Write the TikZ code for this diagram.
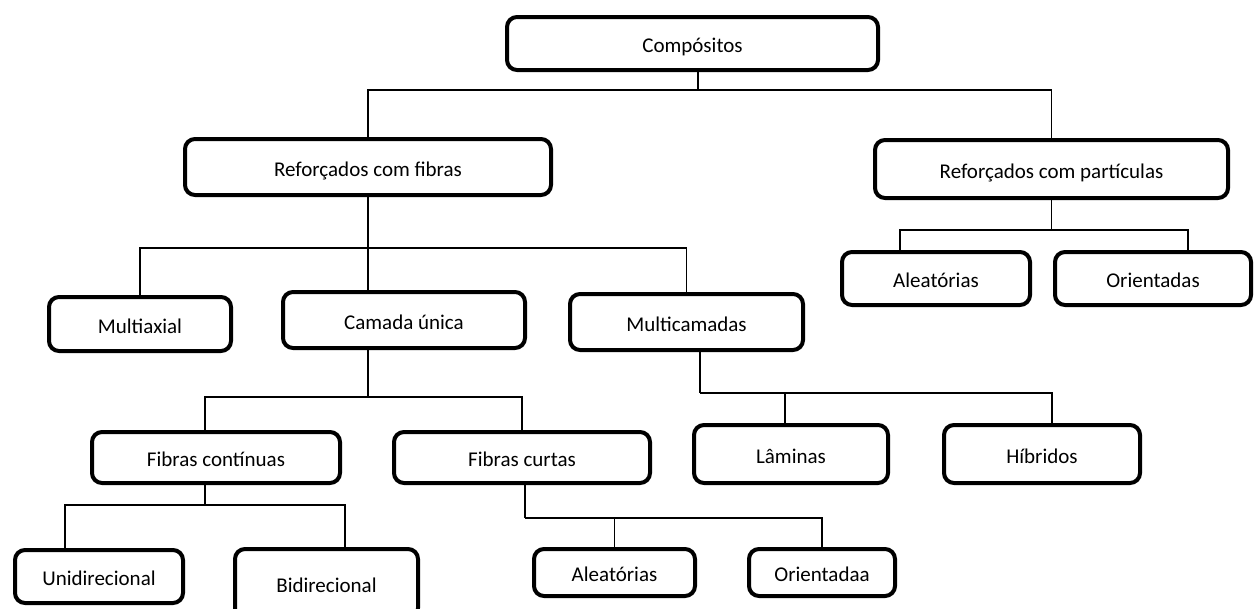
\documentclass[tikz,border=0pt]{standalone}
\usepackage{fontspec}
\setmainfont{Carlito}
\usetikzlibrary{positioning,calc}

\begin{document}
\begin{tikzpicture}[
  x=1pt, y=-1pt,
  caixa/.style={draw=black, line width=4pt, rounded corners=10pt, fill=white, align=center, inner sep=0pt,
    text height=19pt, text depth=1pt, font=\fontsize{21}{25}\selectfont},
  ramo/.style={draw=black, line width=1.8pt}
]
\useasboundingbox (0,0) rectangle (1260,608);
\clip (0,0) rectangle (1260,608);

% niveis dos barramentos
\coordinate (b1) at (0,90);
\coordinate (b2) at (0,248);
\coordinate (b3) at (0,230);
\coordinate (b4) at (0,397);
\coordinate (b5) at (0,393);
\coordinate (b6) at (0,505);
\coordinate (b7) at (0,518);

\node[caixa, minimum width=371pt, minimum height=53pt] (comp) at (692.5,43.5) {Compósitos};
\node[caixa, minimum width=366pt, minimum height=56pt] (reffib) at (368,167) {Reforçados com fibras};
\node[caixa, minimum width=353pt, minimum height=58pt] (refpart) at (1051.5,169) {Reforçados com partículas};
\node[caixa, minimum width=188pt, minimum height=53pt] (aleatA) at (936,278.5) {Aleatórias};
\node[caixa, minimum width=196pt, minimum height=53pt] (orientA) at (1153,278.5) {Orientadas};
\node[caixa, minimum width=182pt, minimum height=54pt] (multiax) at (140,324) {Multiaxial};
\node[caixa, minimum width=242pt, minimum height=56pt] (camada) at (404,320) {Camada única};
\node[caixa, minimum width=233pt, minimum height=56pt] (multicam) at (686.5,322) {Multicamadas};
\node[caixa, minimum width=248pt, minimum height=51pt] (fibcont) at (216,457.5) {Fibras contínuas};
\node[caixa, minimum width=256pt, minimum height=51pt] (fibcurt) at (522,457.5) {Fibras curtas};
\node[caixa, minimum width=194pt, minimum height=58pt] (laminas) at (791,454) {Lâminas};
\node[caixa, minimum width=196pt, minimum height=58pt] (hibridos) at (1042,454) {Híbridos};
\node[caixa, minimum width=168pt, minimum height=53pt] (unidir) at (99,576.5) {Unidirecional};
\node[caixa, minimum width=183pt, minimum height=69pt] (bidir) at (326.5,583.5) {Bidirecional};
\node[caixa, minimum width=161pt, minimum height=47pt] (aleatB) at (614.5,572.5) {Aleatórias};
\node[caixa, minimum width=146pt, minimum height=47pt] (orientB) at (822,572.5) {Orientadaa};

% pontos de ligacao fora do centro
\coordinate (compbase) at ([xshift=5.5pt]comp.south);
\coordinate (aleatAtop) at ([xshift=-36pt]aleatA.north);
\coordinate (orientAtop) at ([xshift=35pt]orientA.north);
\coordinate (multicambase) at ([xshift=13.5pt]multicam.south);
\coordinate (laminastop) at ([xshift=-6pt]laminas.north);
\coordinate (hibridostop) at ([xshift=10pt]hibridos.north);
\coordinate (fibconttop) at ([xshift=-11pt]fibcont.north);
\coordinate (fibcontbase) at ([xshift=-11pt]fibcont.south);
\coordinate (unidirtop) at ([xshift=-34pt]unidir.north);
\coordinate (bidirtop) at ([xshift=18.5pt]bidir.north);
\coordinate (fibcurtbase) at ([xshift=3pt]fibcurt.south);

\draw[ramo] (compbase) -- (compbase |- b1);
\draw[ramo] (reffib.north) |- (refpart.north |- b1) -- (refpart.north);

\draw[ramo] (refpart.south) -- (refpart.south |- b3);
\draw[ramo] (aleatAtop) |- (orientAtop |- b3) -- (orientAtop);

\draw[ramo] (reffib.south) -- (reffib.south |- b2);
\draw[ramo] (multiax.north) |- (multicam.north |- b2) -- (multicam.north);
\draw[ramo] (reffib.south |- b2) -- (reffib.south |- camada.north);

\draw[ramo] (reffib.south |- camada.south) -- (reffib.south |- b4);
\draw[ramo] (fibconttop) |- (fibcurt.north |- b4) -- (fibcurt.north);

\draw[ramo] (multicambase) -- (multicambase |- b5);
\draw[ramo] (multicambase |- b5) -| (hibridostop);
\draw[ramo] (laminastop) -- (laminastop |- b5);

\draw[ramo] (fibcontbase) -- (fibcontbase |- b6);
\draw[ramo] (unidirtop) |- (bidirtop |- b6) -- (bidirtop);

\draw[ramo] (fibcurtbase) -- (fibcurtbase |- b7);
\draw[ramo] (fibcurtbase |- b7) -| (orientB.north);
\draw[ramo] (aleatB.north) -- (aleatB.north |- b7);
\end{tikzpicture}
\end{document}
